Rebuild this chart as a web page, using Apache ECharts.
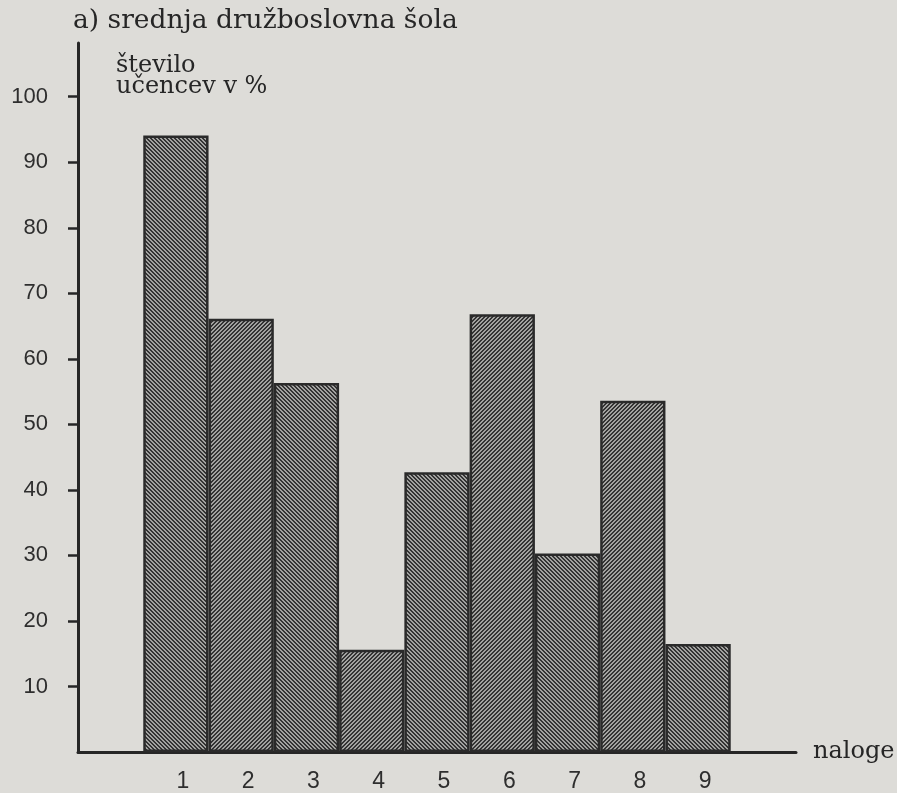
<!DOCTYPE html>
<html>
<head>
<meta charset="utf-8">
<script src="https://cdn.jsdelivr.net/npm/echarts@6/dist/echarts.min.js"></script>
<style>
    html, body { margin: 0; padding: 0; background: #dddcd8; }
    #chart { width: 897px; height: 793px; }
</style>
</head>
<body>
<div id="chart"></div>
<script>
// podatki
var naslov = 'a) srednja družboslovna šola';
var osY = 'število\nučencev v %';
var osX = 'naloge';
var naloge = ['1', '2', '3', '4', '5', '6', '7', '8', '9'];
var odstotki = [94.1, 66.1, 56.3, 15.6, 42.7, 66.8, 30.3, 53.6, 16.5];
var oznakeY = [10, 20, 30, 40, 50, 60, 70, 80, 90, 100];

// šrafura - smer se izmenjuje
function srafura(smer) {
    var c = document.createElement('canvas');
    c.width = 4;
    c.height = 4;
    var ctx = c.getContext('2d');
    ctx.fillStyle = '#a2a2a0';
    ctx.fillRect(0, 0, 4, 4);
    ctx.fillStyle = '#333333';
    for (var y = 0; y < 4; y++) {
        for (var x = 0; x < 4; x++) {
            var k = smer ? ((x - y + 8) % 4) : ((x + y) % 4);
            if (k === 0 || k === 1) {
                ctx.fillRect(x, y, 1, 1);
            }
        }
    }
    return c;
}
var vzorecA = srafura(true);
var vzorecB = srafura(false);

// prazna kategorija na začetku in na koncu
var kategorije = [''].concat(naloge).concat(['']);
var podatki = ['-'];
odstotki.forEach(function (v, i) {
    podatki.push({
        value: v,
        itemStyle: {
            color: { image: i % 2 === 0 ? vzorecA : vzorecB, repeat: 'repeat' }
        }
    });
});
podatki.push('-');

var myChart = echarts.init(document.getElementById('chart'));
var option = {
    backgroundColor: '#dddcd8',
    animation: false,
    title: [
        {
            text: naslov,
            left: 68,
            top: 3,
            textStyle: { fontFamily: 'DejaVu Serif', fontSize: 26.5, fontWeight: 'normal', color: '#262626' }
        },
        {
            text: osY,
            left: 111,
            top: 50,
            textStyle: { fontFamily: 'DejaVu Serif', fontSize: 24, fontWeight: 'normal', color: '#262626', lineHeight: 21 }
        }
    ],
    grid: { left: 78, right: 101, top: 43, bottom: 41, outerBoundsMode: 'none' },
    xAxis: {
        type: 'category',
        data: kategorije,
        boundaryGap: true,
        name: osX,
        nameLocation: 'end',
        nameGap: 17,
        nameTextStyle: { fontFamily: 'DejaVu Serif', fontSize: 24, color: '#262626', verticalAlign: 'middle', padding: [0, 0, 6, 0] },
        axisLine: { lineStyle: { color: '#262626', width: 3 } },
        axisTick: { show: false },
        axisLabel: { margin: 18, padding: [0, 0, 0, 14], fontFamily: 'Liberation Sans', fontSize: 23, color: '#2e2e2e' }
    },
    yAxis: {
        type: 'value',
        min: 0,
        max: 108.2,
        interval: 10,
        axisLine: { show: true, lineStyle: { color: '#262626', width: 3 } },
        axisTick: { show: true, length: 10, customValues: oznakeY, lineStyle: { color: '#262626', width: 2.5 } },
        axisLabel: { margin: 30, customValues: oznakeY, fontFamily: 'Liberation Sans', fontSize: 22, color: '#2e2e2e' },
        splitLine: { show: false }
    },
    series: [
        {
            type: 'bar',
            data: podatki,
            barCategoryGap: 0,
            barGap: 0,
            itemStyle: { borderColor: '#2a2a2a', borderWidth: 2.5 }
        }
    ]
};
myChart.setOption(option, true);
</script>
</body>
</html>
